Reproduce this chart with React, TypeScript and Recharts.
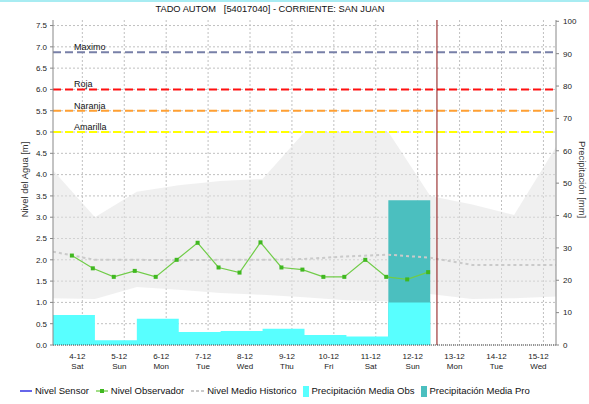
import React from 'react';
import {
  ComposedChart,
  Area,
  Line,
  XAxis,
  YAxis,
  CartesianGrid,
  ReferenceLine,
} from 'recharts';

// ---- data ----
const dayTicks = [0, 1, 2, 3, 4, 5, 6, 7, 8, 9, 10, 11];
const dateLabels = ['4-12', '5-12', '6-12', '7-12', '8-12', '9-12', '10-12', '11-12', '12-12', '13-12', '14-12', '15-12'];
const dayNames = ['Sat', 'Sun', 'Mon', 'Tue', 'Wed', 'Thu', 'Fri', 'Sat', 'Sun', 'Mon', 'Tue', 'Wed'];

const levelTicks = [0, 0.5, 1, 1.5, 2, 2.5, 3, 3.5, 4, 4.5, 5, 5.5, 6, 6.5, 7, 7.5];
const precipTicks = [0, 10, 20, 30, 40, 50, 60, 70, 80, 90, 100];

// observer readings (days since 4-12 00:00)
const obsTimes = [-0.25, 0.25, 0.75, 1.25, 1.75, 2.25, 2.75, 3.25, 3.75, 4.25, 4.75, 5.25, 5.75, 6.25, 6.75, 7.25, 7.75, 8.25];
const obsLevels = [2.1, 1.8, 1.6, 1.74, 1.6, 2.0, 2.4, 1.82, 1.7, 2.41, 1.82, 1.77, 1.6, 1.6, 2.0, 1.6, 1.54, 1.71];

// historical statistics
const histTimes = [-0.7, 0.3, 1.3, 2.3, 3.3, 4.3, 5.3, 6.3, 7.3, 8.3, 9.3, 10.3, 11.3];
const histMax = [4.1, 3.0, 3.6, 3.75, 3.85, 3.9, 5.0, 5.0, 5.0, 3.5, 3.3, 3.05, 4.65];
const histMin = [1.1, 1.08, 1.36, 1.3, 1.22, 1.18, 1.12, 1.05, 1.03, 1.2, 1.08, 1.1, 1.14];
const histMedian = [2.19, 2.0, 2.0, 1.99, 2.0, 2.0, 2.02, 2.08, 2.12, 2.05, 1.88, 1.88, 1.88];

// daily precipitation (period start times, last entry closes the period)
const precipTimes = [-0.7, 0.3, 1.3, 2.3, 3.3, 4.3, 5.3, 6.3, 7.3, 8.3];
const precipObs = [9.3, 1.5, 8.1, 4.0, 4.3, 5.0, 3.1, 2.6, 13.1, 0];
const precipProTimes = [7.3, 8.3];
const precipPro = [44.7, 0];

const thresholdNames = ['Maximo', 'Roja', 'Naranja', 'Amarilla'];
const thresholdLevels = [6.87, 6.0, 5.5, 5.0];

const nowTime = 8.46;

// ---- styles ----
const THRESHOLD_COLORS = ['#7880a8', '#ff1010', '#ffa033', '#ffff00'];
const FONT = '"Liberation Sans", Arial, Helvetica, sans-serif';

const obsData = obsTimes.map((t, i) => ({ t, level: obsLevels[i] }));
const histData = histTimes.map((t, i) => ({ t, range: [histMin[i], histMax[i]], median: histMedian[i] }));
const precipObsData = precipTimes.map((t, i) => ({ t, mm: precipObs[i] }));
const precipProData = precipProTimes.map((t, i) => ({ t, mm: precipPro[i] }));

const DateTick = (props: any) => {
  const { x, y, payload } = props;
  const i = dayTicks.indexOf(Math.round(payload.value));
  return (
    <g transform={`translate(${x},${y})`}>
      <text x={-5} y={14} textAnchor="middle" fontSize={8} fill="#222" fontFamily={FONT}>
        {dateLabels[i]}
      </text>
      <text x={-5} y={23.5} textAnchor="middle" fontSize={8} fill="#222" fontFamily={FONT}>
        {dayNames[i]}
      </text>
    </g>
  );
};

const ObsDot = (props: any) => {
  const { cx, cy, index } = props;
  if (cx == null || cy == null) return <g key={`d${index}`} />;
  return <rect key={`d${index}`} x={cx - 2} y={cy - 2} width={4} height={4} fill="#40b820" />;
};

const makeThresholdLabel = (text: string) => (p: any) => {
  const vb = p.viewBox || {};
  return (
    <text x={(vb.x || 0) + 21} y={(vb.y || 0) - 2} fontSize={9} fill="#111" fontFamily={FONT}>
      {text}
    </text>
  );
};

const LeftAxisLabel = (p: any) => {
  const vb = p.viewBox || {};
  const cx = (vb.x || 0) + 24;
  const cy = (vb.y || 0) + (vb.height || 0) / 2 - 3;
  return (
    <text
      x={cx}
      y={cy}
      transform={`rotate(-90, ${cx}, ${cy})`}
      textAnchor="middle"
      dominantBaseline="central"
      fontSize={9.4}
      fill="#333"
      fontFamily={FONT}
    >
      Nivel del Agua [m]
    </text>
  );
};

const RightAxisLabel = (p: any) => {
  const vb = p.viewBox || {};
  const cx = (vb.x || 0) + 26;
  const cy = (vb.y || 0) + (vb.height || 0) / 2 - 3;
  return (
    <text
      x={cx}
      y={cy}
      transform={`rotate(90, ${cx}, ${cy})`}
      textAnchor="middle"
      dominantBaseline="central"
      fontSize={9.4}
      fill="#333"
      fontFamily={FONT}
    >
      Precipitación [mm]
    </text>
  );
};

const legendText: React.CSSProperties = { marginLeft: 3, marginRight: 7 };

export default function App() {
  return (
    <div
      style={{
        position: 'absolute',
        left: 0,
        top: 0,
        width: 589,
        height: 404,
        background: '#fff',
        fontFamily: FONT,
        overflow: 'hidden',
      }}
    >
      <div style={{ position: 'absolute', left: 0, top: 0, width: 589, height: 2, background: '#a8ecf2' }} />
      <div
        style={{
          position: 'absolute',
          left: 0,
          top: 3,
          width: 540,
          textAlign: 'center',
          fontSize: 9.3,
          lineHeight: '13px',
          color: '#111',
          whiteSpace: 'pre',
        }}
      >
        {'TADO AUTOM   [54017040] - CORRIENTE: SAN JUAN'}
      </div>
      <ComposedChart width={589} height={404} margin={{ top: 20, right: 0, bottom: 29, left: 0 }}>
        <CartesianGrid
          xAxisId="t"
          yAxisId="left"
          stroke="#c0c0c0"
          strokeDasharray="2 2"
          horizontalValues={levelTicks}
          verticalValues={dayTicks}
        />
        <XAxis
          xAxisId="t"
          dataKey="t"
          type="number"
          domain={[-0.7, 11.3]}
          allowDataOverflow
          ticks={dayTicks}
          interval={0}
          tick={<DateTick />}
          tickSize={0}
          tickMargin={0}
          tickLine={false}
          height={30}
          axisLine={{ stroke: '#444', strokeDasharray: '1 1' }}
        />
        <XAxis
          xAxisId="top"
          orientation="top"
          type="number"
          domain={[-0.7, 11.3]}
          allowDataOverflow
          tick={false}
          tickLine={false}
          height={0}
          axisLine={{ stroke: '#999' }}
        />
        <YAxis
          yAxisId="left"
          type="number"
          domain={[0, 7.63]}
          allowDataOverflow
          ticks={levelTicks}
          interval={0}
          width={53}
          tickSize={3}
          tickMargin={3}
          tickFormatter={(v: number) => v.toFixed(1)}
          tick={{ fontSize: 8, fill: '#222', fontFamily: FONT }}
          tickLine={{ stroke: '#888' }}
          axisLine={{ stroke: '#888' }}
          label={{ content: LeftAxisLabel }}
        />
        <YAxis
          yAxisId="right"
          orientation="right"
          type="number"
          domain={[0, 100.4]}
          allowDataOverflow
          ticks={precipTicks}
          interval={0}
          width={33}
          tickSize={3}
          tickMargin={4}
          tick={{ fontSize: 8, fill: '#222', fontFamily: FONT }}
          tickLine={{ stroke: '#888' }}
          axisLine={{ stroke: '#888' }}
          label={{ content: RightAxisLabel }}
        />

        <Area
          data={histData}
          xAxisId="t"
          yAxisId="left"
          dataKey="range"
          type="linear"
          fill="#e2e2e2"
          fillOpacity={0.5}
          stroke="none"
          isAnimationActive={false}
        />
        <Area
          data={precipProData}
          xAxisId="t"
          yAxisId="right"
          dataKey="mm"
          type="stepAfter"
          fill="#4bbfbf"
          fillOpacity={1}
          stroke="none"
          isAnimationActive={false}
        />
        <Area
          data={precipObsData}
          xAxisId="t"
          yAxisId="right"
          dataKey="mm"
          type="stepAfter"
          fill="#58ffff"
          fillOpacity={1}
          stroke="none"
          isAnimationActive={false}
        />
        <Line
          data={histData}
          xAxisId="t"
          yAxisId="left"
          dataKey="median"
          type="linear"
          stroke="#cacaca"
          strokeWidth={2}
          strokeDasharray="3 3"
          dot={false}
          activeDot={false}
          isAnimationActive={false}
        />
        <Line
          data={obsData}
          xAxisId="t"
          yAxisId="left"
          dataKey="level"
          type="linear"
          stroke="#70cc48"
          strokeWidth={1.2}
          dot={ObsDot}
          activeDot={false}
          isAnimationActive={false}
        />

        {thresholdLevels.map((v, i) => (
          <ReferenceLine
            key={thresholdNames[i]}
            xAxisId="t"
            yAxisId="left"
            y={v}
            stroke={THRESHOLD_COLORS[i]}
            strokeWidth={2}
            strokeDasharray="8 4"
            label={makeThresholdLabel(thresholdNames[i])}
          />
        ))}
        <ReferenceLine xAxisId="t" yAxisId="left" x={nowTime} stroke="#8a1010" strokeWidth={1} />
      </ComposedChart>

      <div
        style={{
          position: 'absolute',
          left: 20,
          top: 384,
          height: 14,
          lineHeight: '14px',
          display: 'flex',
          alignItems: 'center',
          fontSize: 9.5,
          color: '#111',
          whiteSpace: 'nowrap',
        }}
      >
        <svg width={12} height={10}>
          <line x1={0} y1={5} x2={12} y2={5} stroke="#0000dd" strokeWidth={1.2} />
        </svg>
        <span style={legendText}>Nivel Sensor</span>
        <svg width={12} height={10}>
          <line x1={0} y1={5} x2={12} y2={5} stroke="#70cc48" strokeWidth={1.3} />
          <rect x={4} y={3} width={4} height={4} fill="#40b820" />
        </svg>
        <span style={legendText}>Nivel Observador</span>
        <svg width={13} height={10}>
          <line x1={0} y1={5} x2={13} y2={5} stroke="#cacaca" strokeWidth={2} strokeDasharray="3 2" />
        </svg>
        <span style={legendText}>Nivel Medio Historico</span>
        <svg width={6} height={11}>
          <rect x={0} y={0} width={6} height={11} fill="#58ffff" />
        </svg>
        <span style={{ marginLeft: 2, marginRight: 7 }}>Precipitación Media Obs</span>
        <svg width={6} height={11}>
          <rect x={0} y={0} width={6} height={11} fill="#4bbfbf" />
        </svg>
        <span style={{ marginLeft: 2 }}>Precipitación Media Pro</span>
      </div>
    </div>
  );
}
